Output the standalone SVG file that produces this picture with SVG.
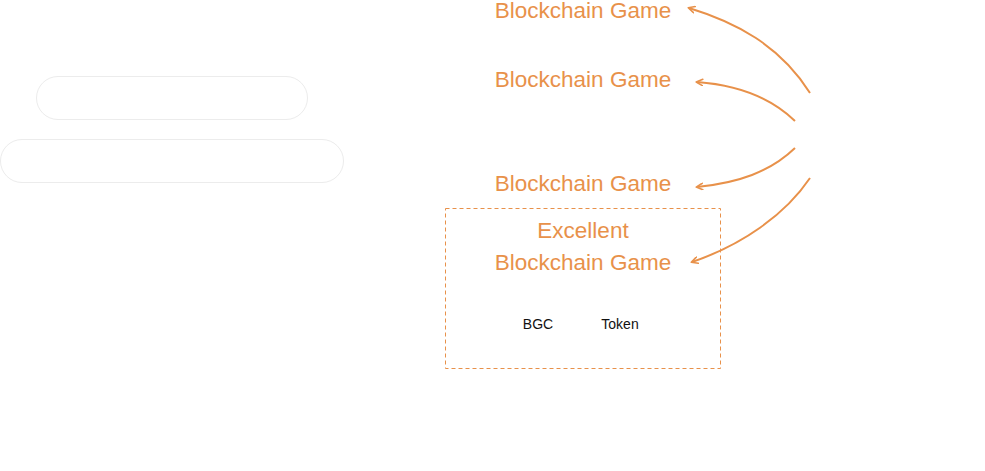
<svg xmlns="http://www.w3.org/2000/svg" width="985" height="471" viewBox="0 0 985 471">
<defs>
<style>
.pill{fill:#fff;stroke:#ececec;stroke-width:1}
.lbl{font-family:"Liberation Sans",Arial,sans-serif;font-size:22.5px;fill:#E8914A;text-anchor:middle}
.sm{font-family:"Liberation Sans",Arial,sans-serif;font-size:14px;fill:#111;text-anchor:middle}
.conn{fill:none;stroke:#E8914A;stroke-width:2}
</style>
<marker id="ah" viewBox="0 0 10 10" refX="8" refY="5" markerWidth="8" markerHeight="8" markerUnits="userSpaceOnUse" orient="auto">
<path d="M1,1 L9,5 L1,9" fill="none" stroke="#E8914A" stroke-width="2" stroke-linejoin="round" stroke-linecap="round"/>
</marker>
</defs>
<rect width="985" height="471" fill="#fff"/>
<g id="pill1"><rect class="pill" x="36.5" y="76.5" width="271" height="43" rx="21.5"/></g>
<g id="pill2"><rect class="pill" x="0.5" y="139.5" width="343" height="43" rx="21.5"/></g>
<g id="game1"><text class="lbl" x="583" y="18">Blockchain Game</text></g>
<g id="game2"><text class="lbl" x="583" y="87">Blockchain Game</text></g>
<g id="game3"><text class="lbl" x="583" y="191">Blockchain Game</text></g>
<g id="excellent">
<rect x="445.5" y="208.5" width="275" height="160" fill="none" stroke="#E8914A" stroke-width="1" stroke-dasharray="4,3"/>
<text class="lbl" x="583" y="238">Excellent</text>
<text class="lbl" x="583" y="270">Blockchain Game</text>
<text class="sm" x="538" y="329">BGC</text>
<text class="sm" x="620" y="329">Token</text>
</g>
<g id="connectors">
<path class="conn" marker-end="url(#ah)" d="M810,93 C780,45 735,22 689,8"/>
<path class="conn" marker-end="url(#ah)" d="M795,121 C770,97 738,85 697,82"/>
<path class="conn" marker-end="url(#ah)" d="M795,148 C770,172 738,183 697,187"/>
<path class="conn" marker-end="url(#ah)" d="M810,178 C785,215 742,245 692,262"/>
</g>
</svg>
